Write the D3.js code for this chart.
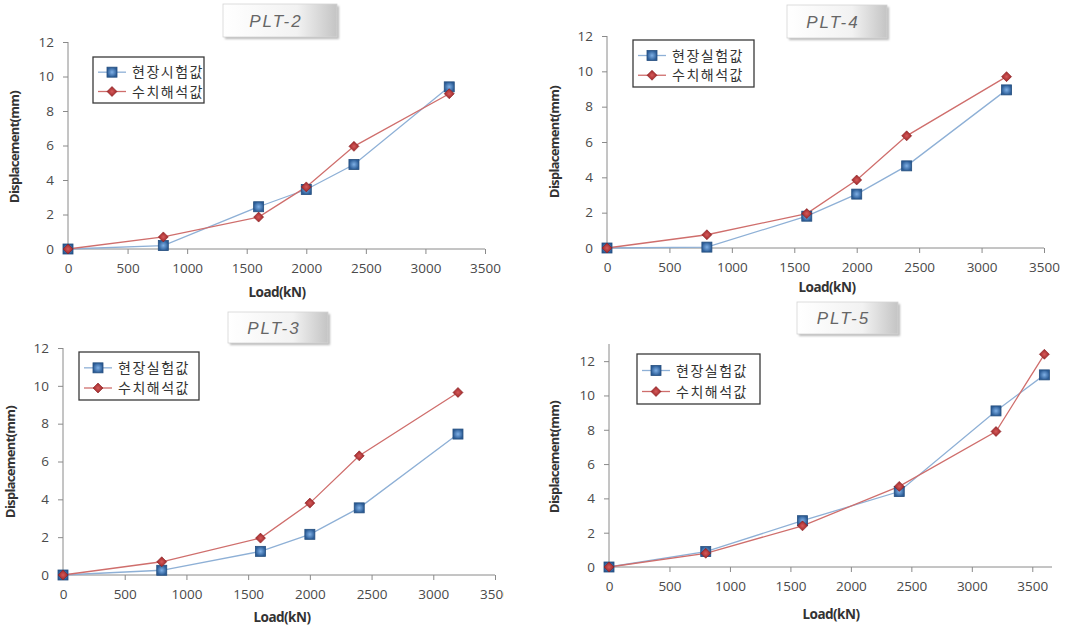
<!DOCTYPE html>
<html>
<head>
<meta charset="utf-8">
<script src="https://cdn.jsdelivr.net/npm/d3@7/dist/d3.min.js"></script>
<style>
  body { margin: 0; background: #fff; }
  text { fill: #4a4a4a; }
</style>
</head>
<body>
<svg id="chart" width="1088" height="627"></svg>
<script>
// load steps (kN)
var loadSteps = [0, 800, 1600, 2000, 2400, 3200];
var loadStepsPlt5 = [0, 800, 1600, 2400, 3200, 3600];

// displacement (mm): field test / numerical analysis
var plt2Field = [0, 0.2, 2.45, 3.45, 4.9, 9.4];
var plt2Fem   = [0, 0.7, 1.85, 3.6, 5.95, 9.0];
var plt4Field = [0, 0.05, 1.8, 3.05, 4.65, 8.95];
var plt4Fem   = [0, 0.75, 1.95, 3.85, 6.35, 9.7];
var plt3Field = [0, 0.25, 1.25, 2.15, 3.55, 7.45];
var plt3Fem   = [0, 0.7, 1.95, 3.8, 6.3, 9.65];
var plt5Field = [0, 0.9, 2.7, 4.4, 9.1, 11.2];
var plt5Fem   = [0, 0.8, 2.4, 4.7, 7.9, 12.4];

var xTicks = [0, 500, 1000, 1500, 2000, 2500, 3000, 3500];
var yTicks = [0, 2, 4, 6, 8, 10, 12];

var titles = ['PLT-2', 'PLT-4', 'PLT-3', 'PLT-5'];
var fieldNames = ['현장시험값', '현장실험값', '현장실험값', '현장실험값'];
var femName = '수치해석값';
var xTitle = 'Load(kN)';
var yTitle = 'Displacement(mm)';

// where each small chart sits on the page
var panels = [
  { loads: loadSteps, field: plt2Field, fem: plt2Fem, xMax: 3500, yMax: 12,
    px: [68, 485], py: [249, 42], box: [223, 4, 114, 33], leg: [93, 57, 111, 46],
    xl: [277, 297], yl: [19, 147] },
  { loads: loadSteps, field: plt4Field, fem: plt4Fem, xMax: 3500, yMax: 12,
    px: [607, 1044], py: [248, 36], box: [787, 5, 100, 33], leg: [633, 40, 121, 47],
    xl: [827, 292], yl: [559, 142] },
  { loads: loadSteps, field: plt3Field, fem: plt3Fem, xMax: 3500, yMax: 12,
    px: [63, 495], py: [575, 348], box: [228, 312, 100, 31], leg: [79, 352, 120, 48],
    xl: [282, 622], yl: [15, 462], clip: true },
  { loads: loadStepsPlt5, field: plt5Field, fem: plt5Fem, xMax: 3663, yMax: 13,
    px: [609, 1052], py: [567, 344], box: [797, 302, 101, 32], leg: [637, 354, 123, 50],
    xl: [831, 619], yl: [559, 457] }
];

var svg = d3.select('#chart');
var defs = svg.append('defs');

var boxGrad = defs.append('linearGradient').attr('id', 'boxGrad');
boxGrad.append('stop').attr('offset', '0%').attr('stop-color', '#ffffff');
boxGrad.append('stop').attr('offset', '65%').attr('stop-color', '#f2f2f2');
boxGrad.append('stop').attr('offset', '100%').attr('stop-color', '#c4c4c4');

var sqGrad = defs.append('radialGradient').attr('id', 'sqGrad');
sqGrad.append('stop').attr('offset', '0%').attr('stop-color', '#7fb0e6');
sqGrad.append('stop').attr('offset', '100%').attr('stop-color', '#2c5d97');

var dmGrad = defs.append('radialGradient').attr('id', 'dmGrad');
dmGrad.append('stop').attr('offset', '0%').attr('stop-color', '#d65a5a');
dmGrad.append('stop').attr('offset', '100%').attr('stop-color', '#9a2426');

var blur = defs.append('filter').attr('id', 'shadow');
blur.append('feGaussianBlur').attr('stdDeviation', 1.2);

// the PLT-3 picture is cut off on its right side
defs.append('clipPath').attr('id', 'clip3')
  .append('rect').attr('x', 0).attr('y', 300).attr('width', 504).attr('height', 327);

var blueLine = '#8eb0d6', redLine = '#cf6e6c';

function drawSquare(sel) {
  sel.append('rect')
    .attr('x', -5).attr('y', -5).attr('width', 10).attr('height', 10)
    .attr('fill', 'url(#sqGrad)').attr('stroke', '#234d7d').attr('stroke-width', 0.8);
}
function drawDiamond(sel) {
  sel.append('path')
    .attr('d', 'M0,-5L5,0L0,5L-5,0Z')
    .attr('fill', 'url(#dmGrad)').attr('stroke', '#8a1f22').attr('stroke-width', 0.6);
}

panels.forEach(function(p, i) {
  var g = svg.append('g');
  if (p.clip) g.attr('clip-path', 'url(#clip3)');

  var x = d3.scaleLinear().domain([0, p.xMax]).range(p.px);
  var y = d3.scaleLinear().domain([0, p.yMax]).range(p.py);

  // title box
  var b = p.box;
  g.append('rect').attr('x', b[0] + 2).attr('y', b[1] + 2).attr('width', b[2]).attr('height', b[3])
    .attr('fill', '#b8b8b8').attr('filter', 'url(#shadow)');
  g.append('rect').attr('x', b[0]).attr('y', b[1]).attr('width', b[2]).attr('height', b[3])
    .attr('fill', 'url(#boxGrad)').attr('stroke', '#d4d4d4').attr('stroke-width', 0.8);
  g.append('text')
    .attr('x', b[0] + b[2] / 2 - 4).attr('y', b[1] + b[3] / 2 + 6)
    .attr('text-anchor', 'middle')
    .style('font', 'italic 17px "Liberation Sans", sans-serif')
    .style('letter-spacing', '2px')
    .style('fill', '#666')
    .text(titles[i]);

  // axes
  var xAxis = g.append('g').attr('transform', 'translate(0,' + p.py[0] + ')')
    .call(d3.axisBottom(x).tickValues(xTicks).tickFormat(d3.format('d'))
      .tickSize(5).tickSizeOuter(0).tickPadding(9));
  var yAxis = g.append('g').attr('transform', 'translate(' + p.px[0] + ',0)')
    .call(d3.axisLeft(y).tickValues(yTicks).tickFormat(d3.format('d'))
      .tickSize(5).tickSizeOuter(0).tickPadding(9));
  [xAxis, yAxis].forEach(function(a) {
    a.select('.domain').attr('stroke', '#8a8a8a');
    a.selectAll('.tick line').attr('stroke', '#8a8a8a');
    a.selectAll('.tick text')
      .style('font', '13.5px "Open Sans", sans-serif')
      .style('fill', '#4a4a4a');
  });
  xAxis.select('.domain').attr('d', 'M' + p.px[0] + ',0H' + p.px[1]);
  yAxis.select('.domain').attr('d', 'M0,' + p.py[0] + 'V' + p.py[1]);

  // axis titles
  g.append('text')
    .attr('x', p.xl[0]).attr('y', p.xl[1])
    .attr('text-anchor', 'middle')
    .style('font', 'bold 13.5px "Noto Sans", sans-serif')
    .style('letter-spacing', '-0.5px')
    .style('fill', '#333')
    .text(xTitle);
  g.append('text')
    .attr('transform', 'translate(' + p.yl[0] + ',' + p.yl[1] + ') rotate(-90)')
    .attr('text-anchor', 'middle')
    .style('font', 'bold 13px "Noto Sans", sans-serif')
    .style('letter-spacing', '-0.7px')
    .style('fill', '#333')
    .text(yTitle);

  // series
  var line = d3.line().x(function(d) { return x(d[0]); }).y(function(d) { return y(d[1]); });
  var fieldPts = d3.zip(p.loads, p.field);
  var femPts = d3.zip(p.loads, p.fem);

  g.append('path').datum(fieldPts).attr('d', line)
    .attr('fill', 'none').attr('stroke', blueLine).attr('stroke-width', 1.3);
  g.append('path').datum(femPts).attr('d', line)
    .attr('fill', 'none').attr('stroke', redLine).attr('stroke-width', 1.3);

  g.selectAll('.sq').data(fieldPts).enter().append('g')
    .attr('transform', function(d) { return 'translate(' + x(d[0]) + ',' + y(d[1]) + ')'; })
    .call(drawSquare);
  g.selectAll('.dm').data(femPts).enter().append('g')
    .attr('transform', function(d) { return 'translate(' + x(d[0]) + ',' + y(d[1]) + ')'; })
    .call(drawDiamond);

  // legend
  var l = p.leg;
  g.append('rect').attr('x', l[0]).attr('y', l[1]).attr('width', l[2]).attr('height', l[3])
    .attr('fill', '#fff').attr('stroke', '#3a3a3a').attr('stroke-width', 1.3);
  var rows = [
    { name: fieldNames[i], color: blueLine, mark: drawSquare },
    { name: femName, color: redLine, mark: drawDiamond }
  ];
  rows.forEach(function(r, k) {
    var ry = l[1] + l[3] * (k === 0 ? 0.33 : 0.75);
    g.append('line').attr('x1', l[0] + 5).attr('x2', l[0] + 33).attr('y1', ry).attr('y2', ry)
      .attr('stroke', r.color).attr('stroke-width', 1.3);
    g.append('g').attr('transform', 'translate(' + (l[0] + 19) + ',' + ry + ')').call(r.mark);
    g.append('text').attr('x', l[0] + 39).attr('y', ry + 5)
      .style('font', '14px "Noto Sans CJK KR", sans-serif')
      .style('letter-spacing', '1.5px')
      .style('fill', '#333')
      .text(r.name);
  });
});
</script>
</body>
</html>
